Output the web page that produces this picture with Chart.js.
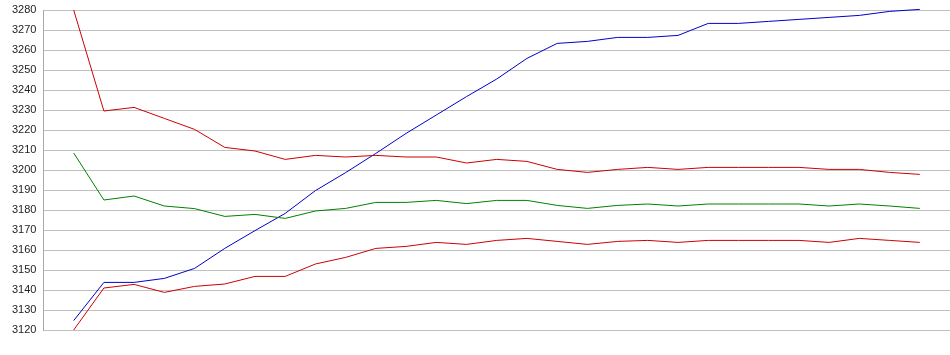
<!DOCTYPE html>
<html>
<head>
<meta charset="utf-8">
<script src="https://cdn.jsdelivr.net/npm/chart.js@4/dist/chart.umd.min.js"></script>
<style>
html,body{margin:0;padding:0;background:#fff;}
#wrap{width:950px;height:355px;position:relative;}
</style>
</head>
<body>
<div id="wrap"><canvas id="c"></canvas></div>
<script>
const categories = [1,2,3,4,5,6,7,8,9,10,11,12,13,14,15,16,17,18,19,20,21,22,23,24,25,26,27,28,29];
const redTop = [3280,3229.5,3231.3,3225.8,3220.3,3211.3,3209.5,3205.3,3207.3,3206.5,3207.3,3206.5,3206.5,3203.5,3205.3,3204.3,3200.3,3198.8,3200.3,3201.3,3200.3,3201.3,3201.3,3201.3,3201.3,3200.3,3200.3,3198.8,3197.8];
const green = [3208.5,3185,3187,3182,3180.7,3176.8,3177.8,3175.8,3179.5,3180.8,3183.8,3183.8,3184.8,3183.2,3184.8,3184.8,3182.3,3180.8,3182.3,3183,3182,3183,3183,3183,3183,3182,3183,3182,3180.8];
const redBottom = [3120,3141,3142.8,3138.8,3141.8,3143,3146.8,3146.8,3153,3156.3,3160.8,3161.8,3163.8,3162.8,3164.8,3165.8,3164.3,3162.8,3164.3,3164.8,3163.8,3164.8,3164.8,3164.8,3164.8,3163.8,3165.8,3164.8,3163.8];
const blue = [3124.7,3143.8,3143.8,3145.8,3150.8,3160.8,3169.7,3178.3,3189.7,3198.7,3208.3,3218.3,3227.5,3236.7,3245.5,3255.8,3263.3,3264.3,3266.3,3266.3,3267.3,3273.3,3273.3,3274.3,3275.3,3276.3,3277.3,3279.3,3280.3];
const yTicks = [3120,3130,3140,3150,3160,3170,3180,3190,3200,3210,3220,3230,3240,3250,3260,3270,3280];

function pts(arr){ return arr.map((v,i)=>({x:categories[i], y:v})); }
function ds(arr,color){
  return {data:pts(arr),borderColor:color,backgroundColor:color,borderWidth:1,pointRadius:0,tension:0,fill:false,clip:false};
}
new Chart(document.getElementById('c'),{
  type:'line',
  data:{datasets:[ds(redTop,'#cc0000'),ds(green,'#008000'),ds(redBottom,'#cc0000'),ds(blue,'#0000cc')]},
  options:{
    responsive:true,maintainAspectRatio:false,animation:false,
    layout:{padding:{top:10,left:5,right:0,bottom:25}},
    plugins:{legend:{display:false},tooltip:{enabled:false}},
    scales:{
      x:{type:'linear',min:0,max:30,display:false},
      y:{
        min:3120,max:3280,
        afterBuildTicks:(s)=>{ s.ticks = yTicks.map(v=>({value:v})); },
        afterFit:(s)=>{ s.paddingTop = 0; s.paddingBottom = 0; },
        grid:{color:'#c0c0c0',drawTicks:false,lineWidth:1},
        border:{display:true,color:'#a8a8a8',width:1},
        ticks:{padding:7,color:'#222',font:{family:'Liberation Sans, Arial, sans-serif',size:11},callback:(v)=>String(v)}
      }
    }
  }
});
</script>
</body>
</html>
